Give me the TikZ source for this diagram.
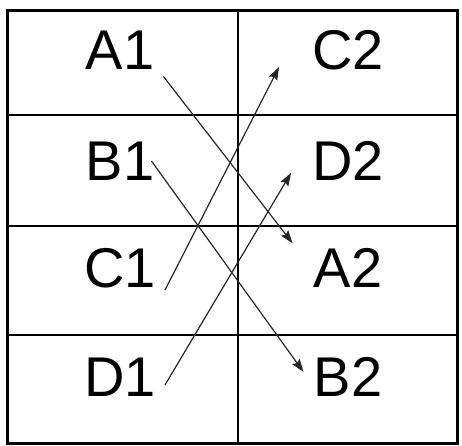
\documentclass[tikz,border=0pt]{standalone}
\usepackage{fontspec}
\setmainfont{Liberation Sans}
\usetikzlibrary{arrows.meta}
\tikzset{
  mtframe/.style={line width=3pt, draw=black},
  mtgrid/.style={line width=1.3pt, draw=black},
  mtlabel/.style={inner sep=0pt, font=\fontsize{56}{60}\selectfont},
  mtlink/.style={line width=1.2pt, draw=black!85, -{Stealth[length=13pt,width=9pt,inset=2pt]}},
}
\begin{document}
\begin{tikzpicture}[x=1pt,y=-1pt]
\useasboundingbox (0,0) rectangle (462,445);
% table
\draw[mtframe] (7,10) rectangle (457,443);
\draw[mtgrid] (238,10) -- (238,443);
\draw[mtgrid] (7,115) -- (457,115);
\draw[mtgrid] (7,226) -- (457,226);
\draw[mtgrid] (7,335) -- (457,335);
% left column
\node[mtlabel] (a1) at (120,50) {A1};
\node[mtlabel] (b1) at (120,161) {B1};
\node[mtlabel] (c1) at (120,268) {C1};
\node[mtlabel] (d1) at (120,377) {D1};
% right column
\node[mtlabel] (c2) at (348,50) {C2};
\node[mtlabel] (d2) at (348,161) {D2};
\node[mtlabel] (a2) at (348,268) {A2};
\node[mtlabel] (b2) at (348,377) {B2};
% links
\draw[mtlink] ([shift={(9,7)}]a1.south east) -- ([shift={(-21,-5)}]a2.north west);
\draw[mtlink] ([shift={(-3,0)}]b1.east) -- ([shift={(-10,-5)}]b2.west);
\draw[mtlink] ([shift={(9,2)}]c1.south east) -- ([shift={(-33,-3)}]c2.south west);
\draw[mtlink] ([shift={(9,8)}]d1.east) -- ([shift={(-21,12)}]d2.west);
\end{tikzpicture}
\end{document}
